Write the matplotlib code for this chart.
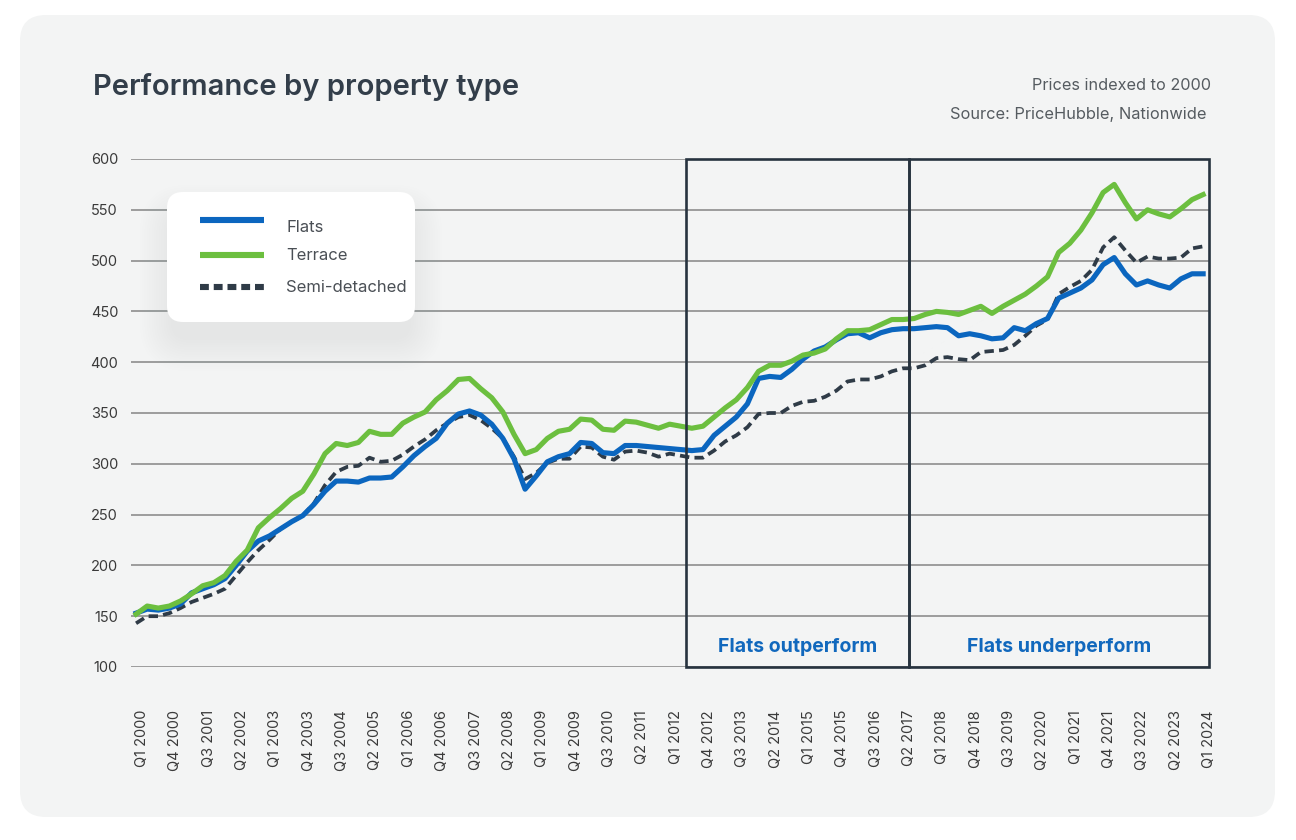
import matplotlib
matplotlib.use('Agg')
import matplotlib.pyplot as plt
from matplotlib.patches import FancyBboxPatch, Rectangle
from matplotlib.lines import Line2D
from matplotlib.transforms import ScaledTranslation
import numpy as np

plt.rcParams['font.family'] = ['Inter', 'DejaVu Sans']

# ---------------- data ----------------
series_names = ["Flats", "Terrace", "Semi-detached"]

flats = [153, 157, 156, 158, 162, 173, 177, 181, 187, 200,
         214, 224, 229, 236, 243, 249, 260, 273, 283, 283,
         282, 286, 286, 287, 297, 308, 317, 325, 340, 349,
         352, 348, 339, 325, 305, 275, 288, 302, 307, 310,
         321, 320, 311, 310, 318, 318, 317, 316, 315, 314,
         313, 314, 328, 337, 346, 359, 384, 386, 385, 393,
         403, 411, 415, 422, 428, 429, 424, 429, 432, 433,
         433, 434, 435, 434, 426, 428, 426, 423, 424, 434,
         431, 438, 443, 463, 468, 473, 481, 496, 503, 487,
         476, 480, 476, 473, 482, 487, 487]

terrace = [152, 160, 158, 160, 165, 172, 180, 183, 190, 204,
           215, 237, 247, 256, 266, 273, 290, 310, 320, 318,
           321, 332, 329, 329, 340, 346, 351, 363, 372, 383,
           384, 374, 365, 351, 329, 310, 314, 325, 332, 334,
           344, 343, 334, 333, 342, 341, 338, 335, 339, 337,
           335, 337, 346, 355, 363, 375, 391, 397, 397, 401,
           407, 409, 413, 423, 431, 431, 432, 437, 442, 442,
           443, 447, 450, 449, 447, 451, 455, 448, 455, 461,
           467, 475, 484, 508, 517, 530, 547, 567, 575, 557,
           541, 550, 546, 543, 551, 560, 565]

semi = [143, 150, 150, 153, 158, 164, 168, 172, 177, 190,
        203, 215, 225, 236, 243, 249, 261, 279, 292, 297,
        298, 306, 302, 303, 309, 317, 324, 333, 340, 346,
        348, 343, 335, 325, 307, 285, 291, 301, 305, 305,
        317, 316, 307, 304, 312, 313, 311, 307, 310, 308,
        306, 306, 313, 322, 328, 336, 349, 350, 350, 357,
        361, 362, 366, 372, 381, 383, 383, 386, 391, 394,
        394, 397, 404, 405, 403, 402, 410, 411, 412, 417,
        426, 436, 442, 467, 474, 480, 491, 513, 523, 510,
        498, 504, 502, 502, 503, 512, 514]

tick_labels = ["Q1 2000", "Q4 2000", "Q3 2001", "Q2 2002", "Q1 2003", "Q4 2003",
               "Q3 2004", "Q2 2005", "Q1 2006", "Q4 2006", "Q3 2007", "Q2 2008",
               "Q1 2009", "Q4 2009", "Q3 2010", "Q2 2011", "Q1 2012", "Q4 2012",
               "Q3 2013", "Q2 2014", "Q1 2015", "Q4 2015", "Q3 2016", "Q2 2017",
               "Q1 2018", "Q4 2018", "Q3 2019", "Q2 2020", "Q1 2021", "Q4 2021",
               "Q3 2022", "Q2 2023", "Q1 2024"]

y_ticks = [100, 150, 200, 250, 300, 350, 400, 450, 500, 550, 600]

# periods (quarter index boundaries): Q3 2012 - Q2 2017, Q3 2017 - Q1 2024
period_labels = ["Flats outperform", "Flats underperform"]
period_bounds = [(49.5, 69.5), (69.5, 96.5)]

# ---------------- style ----------------
C_FLATS = '#0b66bf'
C_TERR = '#6cbf3f'
C_SEMI = '#2f3b47'
C_TEXT = '#333e4a'
C_GRID = '#9c9c9c'
C_CARD = '#f3f4f4'

W, H = 1296, 840
fig = plt.figure(figsize=(W / 100, H / 100), dpi=100)
fig.patch.set_facecolor('white')
T = fig.dpi_scale_trans


def P(x, y):
    return (x / 100.0, (H - y) / 100.0)


# card
card = FancyBboxPatch(P(20, 817), 12.55, 8.02,
                      boxstyle="round,pad=0,rounding_size=0.26",
                      transform=T, facecolor=C_CARD, edgecolor='none', zorder=-10)
fig.patches.append(card)

# axes
ax = fig.add_axes([130.5 / W, 1 - 667 / H, (1208.7 - 130.5) / W, (667 - 159) / H])
ax.set_zorder(1)
ax.set_facecolor('none')
n = len(flats)
x = np.arange(n)
ax.set_xlim(-0.5, n - 0.5)
ax.set_ylim(100, 600)
for s in ax.spines.values():
    s.set_visible(False)
ax.set_yticks(y_ticks)
ax.set_yticklabels([str(v) for v in y_ticks])
ax.set_xticks(np.arange(0, n, 3))
ax.set_xticklabels(tick_labels, rotation=90)
ax.tick_params(axis='y', length=0, pad=9, labelsize=10.5, labelcolor='#3a3a3a')
ax.tick_params(axis='x', length=0, pad=31, labelsize=10.5, labelcolor='#3a3a3a')
shift = ScaledTranslation(6 / 100, 0, fig.dpi_scale_trans)
for tk in ax.xaxis.get_major_ticks():
    tk.label1.set_va('top')
    tk.label1.set_transform(tk.label1.get_transform() + shift)
ax.yaxis.grid(True, color=C_GRID, lw=1.4, zorder=1)
ax.xaxis.grid(False)
ax.set_axisbelow(True)

# lines
ax.plot(x, semi, color=C_SEMI, lw=2.7, ls=(0, (2.5, 1.4)), zorder=3,
        solid_joinstyle='round', dash_capstyle='butt')
ax.plot(x, flats, color=C_FLATS, lw=3.7, zorder=4, solid_joinstyle='round')
ax.plot(x, terrace, color=C_TERR, lw=3.7, zorder=5, solid_joinstyle='round')

# period boxes
for (x0, x1), lab in zip(period_bounds, period_labels):
    r = Rectangle((x0, 100), x1 - x0, 500, fill=False, edgecolor='#27333f',
                  lw=1.9, zorder=6, clip_on=False)
    ax.add_patch(r)
    ax.text((x0 + x1) / 2, 120, lab, ha='center', va='center', color='#1168bd',
            fontsize=14, fontweight='bold', zorder=7)

# title and notes
fig.text(*P(93, 87), "Performance by property type", transform=T, ha='left', va='center',
         fontsize=21, fontweight='semibold', color=C_TEXT)
fig.text(*P(1211, 86), "Prices indexed to 2000", transform=T, ha='right', va='center',
         fontsize=11.7, color='#555b60')
fig.text(*P(1207, 115), "Source: PriceHubble, Nationwide", transform=T, ha='right',
         va='center', fontsize=11.8, color='#555b60')

# legend box with soft shadow
lx, ly, lw_, lh = 167, 192, 248, 130
for k in range(14):
    g = 2 + k * 2.4
    sh = FancyBboxPatch(P(lx - g + 6, ly + lh + g + 16), (lw_ + 2 * g - 12) / 100, (lh + 2 * g - 10) / 100,
                        boxstyle="round,pad=0,rounding_size=%f" % ((16 + g) / 100),
                        transform=T, facecolor='#9aa0a8', edgecolor='none',
                        alpha=0.007, zorder=2)
    fig.patches.append(sh)
leg = FancyBboxPatch(P(lx, ly + lh), lw_ / 100, lh / 100,
                     boxstyle="round,pad=0,rounding_size=0.16",
                     transform=T, facecolor='white', edgecolor='none', zorder=3)
fig.patches.append(leg)

handles = [(C_FLATS, '-', 220, 227), (C_TERR, '-', 255, 256), (C_SEMI, 'dash', 287, 288)]
for (col, st, hy, ty), name in zip(handles, series_names):
    x0, y0 = P(200, hy)
    x1, _ = P(264, hy)
    if st == 'dash':
        ln = Line2D([x0, x1], [y0, y0], transform=T, color=col, lw=4.4,
                    ls=(0, (1.45, 0.8)), dash_capstyle='butt', zorder=4)
    else:
        ln = Line2D([x0, x1], [y0, y0], transform=T, color=col, lw=4.4,
                    solid_capstyle='butt', zorder=4)
    fig.lines.append(ln)
    fig.text(*P(286, ty), name, transform=T, ha='left', va='center',
             fontsize=12, color='#4a4f55', zorder=5)

fig.savefig('out.png', dpi=100, facecolor='white')
